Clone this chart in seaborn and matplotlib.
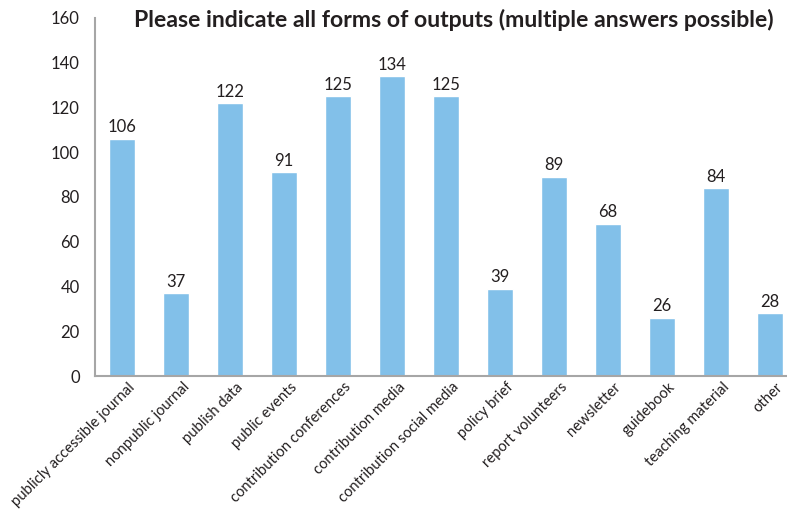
import pandas as pd
import matplotlib
matplotlib.use("Agg")
import matplotlib.pyplot as plt
import matplotlib.transforms as mtransforms
import seaborn as sns

# ---------------- DATA ----------------
categories = ['publicly accessible journal', 'nonpublic journal', 'publish data', 'public events',
              'contribution conferences', 'contribution media', 'contribution social media',
              'policy brief', 'report volunteers', 'newsletter', 'guidebook',
              'teaching material', 'other']
counts = [106, 37, 122, 91, 125, 134, 125, 39, 89, 68, 26, 84, 28]
y_ticks = [0, 20, 40, 60, 80, 100, 120, 140, 160]

df = pd.DataFrame({'output': categories, 'count': counts})

# ---------------- STYLE ----------------
sns.set_style("white")
plt.rcParams['font.family'] = ['Lato', 'DejaVu Sans']
text_col = '#231f20'
bar_col = '#82c0e9'

fig = plt.figure(figsize=(7.87, 5.13), dpi=100)
ax = fig.add_axes([0.1207, 0.267, 0.885, 0.698])

sns.barplot(data=df, x='output', y='count', color=bar_col, width=0.48,
            saturation=1, ax=ax)

# value labels
for i, value in enumerate(counts):
    ax.text(i, value + 1.5, f"{value}", ha='center', va='bottom',
            fontsize=12, color=text_col)

ax.set_ylim(0, 160)
ax.set_xlim(-0.5, 12.4)
ax.set_yticks(y_ticks)
ax.set_yticklabels([str(t) for t in y_ticks], fontsize=12, color=text_col)
ax.set_xticks(range(len(categories)))
ax.set_xticklabels(categories, rotation=45, ha='right', rotation_mode='anchor',
                   fontsize=10.6, color=text_col)
ax.tick_params(axis='both', length=0)
ax.tick_params(axis='y', pad=11)
ax.tick_params(axis='x', pad=3)
ax.set_xlabel("")
ax.set_ylabel("")

# nudge rotated labels a little to the right, like the original
shift = mtransforms.ScaledTranslation(6 / 100, 0, fig.dpi_scale_trans)
for lbl in ax.get_xticklabels():
    lbl.set_transform(lbl.get_transform() + shift)

for side in ['top', 'right']:
    ax.spines[side].set_visible(False)
for side in ['left', 'bottom']:
    ax.spines[side].set_color('#a6a6a6')
    ax.spines[side].set_linewidth(1.5)

fig.text(0.577, 0.962, "Please indicate all forms of outputs (multiple answers possible)",
         ha='center', va='center', fontsize=16.6, fontweight='bold', color=text_col)

fig.savefig("out.png", dpi=100)
